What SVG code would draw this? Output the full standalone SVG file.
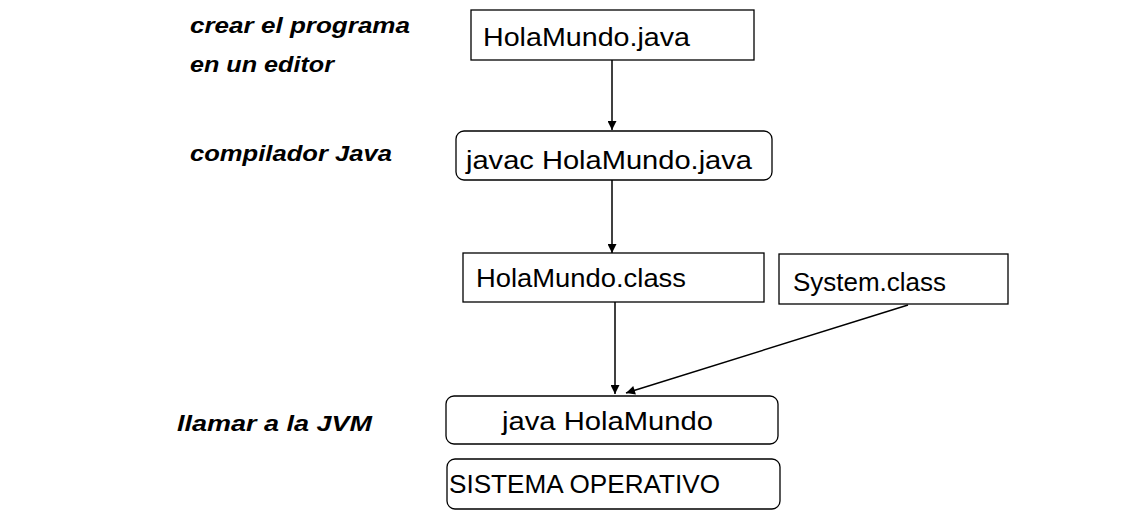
<svg xmlns="http://www.w3.org/2000/svg" width="1138" height="517" viewBox="0 0 1138 517">
<style>
.box{fill:#fff;stroke:#000;stroke-width:1.3}
.t{font-family:"Liberation Sans",Arial,sans-serif;font-size:25px;fill:#000}
.l{font-family:"Liberation Sans",Arial,sans-serif;font-size:22px;font-weight:bold;font-style:italic;fill:#000}
.c{stroke:#000;stroke-width:1.5;fill:none;marker-end:url(#ah)}
</style>
<defs>
<marker id="ah" viewBox="0 0 10 10" refX="10" refY="5" markerWidth="10" markerHeight="9" markerUnits="userSpaceOnUse" orient="auto">
<path d="M0,0 L10,5 L0,10 z" fill="#000"/>
</marker>
</defs>
<g id="labels">
<text class="l" x="190" y="33" textLength="220" lengthAdjust="spacingAndGlyphs">crear el programa</text>
<text class="l" x="190" y="72" textLength="144" lengthAdjust="spacingAndGlyphs">en un editor</text>
<text class="l" x="190" y="161" textLength="202" lengthAdjust="spacingAndGlyphs">compilador Java</text>
<text class="l" x="177" y="431" textLength="195" lengthAdjust="spacingAndGlyphs">llamar a la JVM</text>
</g>
<g id="connectors">
<line class="c" x1="612" y1="60" x2="612" y2="130"/>
<line class="c" x1="612" y1="180" x2="612" y2="253"/>
<line class="c" x1="615" y1="302" x2="615" y2="394"/>
<line class="c" x1="908" y1="305" x2="626" y2="393"/>
</g>
<g id="n1">
<rect class="box" x="471" y="10" width="283" height="50"/>
<text class="t" x="483" y="46" textLength="207" lengthAdjust="spacingAndGlyphs">HolaMundo.java</text>
</g>
<g id="n2">
<rect class="box" x="456" y="131" width="316" height="49" rx="8"/>
<text class="t" x="466" y="169" textLength="286" lengthAdjust="spacingAndGlyphs">javac HolaMundo.java</text>
</g>
<g id="n3">
<rect class="box" x="463" y="253" width="301" height="49"/>
<text class="t" x="476" y="287" textLength="210" lengthAdjust="spacingAndGlyphs">HolaMundo.class</text>
</g>
<g id="n4">
<rect class="box" x="779" y="254" width="229" height="50"/>
<text class="t" x="793" y="291" textLength="153" lengthAdjust="spacingAndGlyphs">System.class</text>
</g>
<g id="n5">
<rect class="box" x="446" y="396" width="332" height="48" rx="8"/>
<text class="t" x="502" y="430" textLength="211" lengthAdjust="spacingAndGlyphs">java HolaMundo</text>
</g>
<g id="n6">
<rect class="box" x="447" y="459" width="333" height="50" rx="8"/>
<text class="t" x="449" y="493" textLength="271" lengthAdjust="spacingAndGlyphs">SISTEMA OPERATIVO</text>
</g>
</svg>
